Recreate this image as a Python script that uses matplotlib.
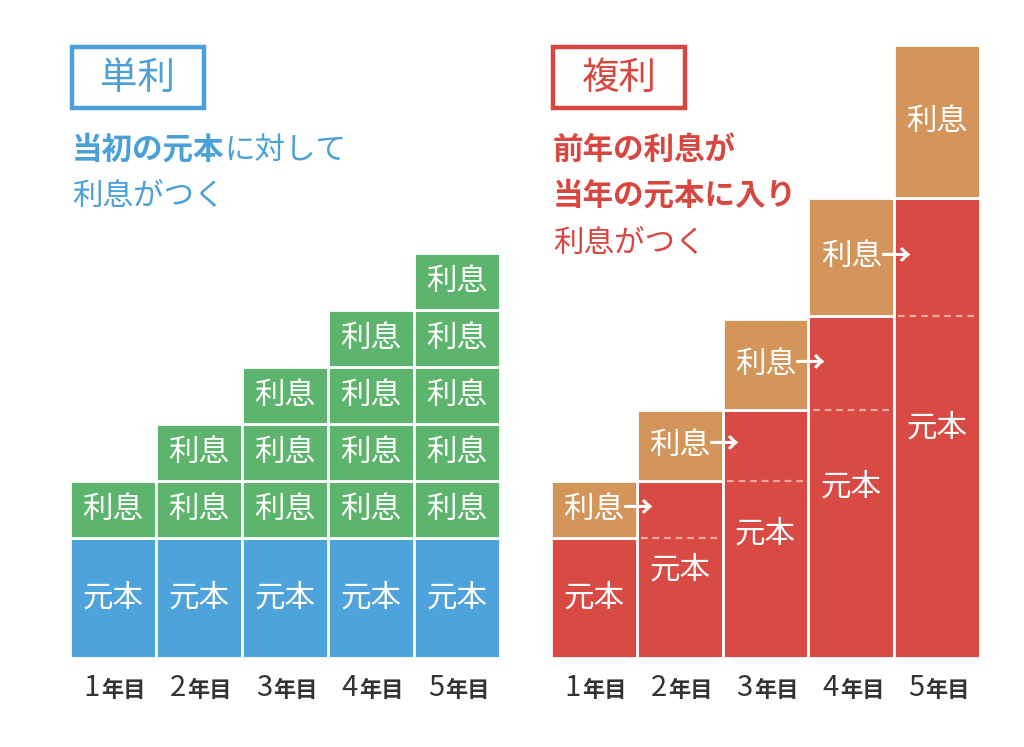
import matplotlib

matplotlib.use("Agg")
import matplotlib.pyplot as plt
from matplotlib.patches import Rectangle

plt.rcParams["font.family"] = ["Noto Sans CJK JP", "DejaVu Sans"]

# data (heights in "one year of simple interest" units)
YEARS = ["1", "2", "3", "4", "5"]
YEAR_SUFFIX = "年目"
SIMPLE_PRINCIPAL = [2.1, 2.1, 2.1, 2.1, 2.1]
SIMPLE_INTEREST = [1.0, 1.0, 1.0, 1.0, 1.0]
SIMPLE_BLOCKS = [1, 2, 3, 4, 5]
COMPOUND_PRINCIPAL = [2.1, 3.1, 4.35, 6.0, 8.07]
COMPOUND_INTEREST = [1.0, 1.25, 1.6, 2.07, 2.68]

BLUE = "#4FA3DC"
GREEN = "#5DB46C"
RED = "#D84A43"
TAN = "#D3955A"
DASH = "#F2A9A2"
TITLE_BLUE = "#4AA0D8"
TITLE_RED = "#D8473F"
YEAR_COLOR = "#333333"

W, H = 1024, 747
YMAX = 10.75
FS = 22


def fx(x):
    return x / W


def fy(y):
    return 1 - y / H


fig = plt.figure(figsize=(W / 100, H / 100), dpi=100, facecolor="white")


def make_axes(left, right):
    ax = fig.add_axes([fx(left), fy(658), fx(right - left), (658 - 45) / H])
    ax.set_xlim(-0.5, 4.5)
    ax.set_ylim(0, YMAX)
    ax.axis("off")
    return ax


def year_labels(ax):
    for i, yr in enumerate(YEARS):
        t = ax.text(i - 0.15, -0.049, yr, transform=ax.get_xaxis_transform(),
                    ha="right", va="center", fontsize=21, color=YEAR_COLOR)
        ax.annotate(YEAR_SUFFIX, xy=(1, 0.5), xycoords=t, xytext=(1, -1.5),
                    textcoords="offset points", ha="left", va="center",
                    fontsize=16, color=YEAR_COLOR, fontweight="bold")


def title_block(ax, left, color, title, lines):
    fig.patches.append(Rectangle((fx(left), fy(108)), fx(132), 61 / H,
                                 transform=fig.transFigure, fill=False,
                                 edgecolor=color, linewidth=3.2))
    fig.text(fx(left + 66), fy(78), title, ha="center", va="center",
             fontsize=27, color=color)
    for y, (bold, normal) in zip([150, 196, 243], lines):
        if bold:
            t = fig.text(fx(left), fy(y), bold, ha="left", va="center",
                         fontsize=FS, color=color, fontweight="bold")
            if normal:
                ax.annotate(normal, xy=(1, 0), xycoords=t, ha="left",
                            va="bottom", fontsize=FS, color=color,
                            annotation_clip=False)
        else:
            fig.text(fx(left), fy(y), normal, ha="left", va="center",
                     fontsize=FS, color=color)


# simple interest panel
axL = make_axes(70, 500)
x = list(range(len(YEARS)))
axL.bar(x, SIMPLE_PRINCIPAL, width=1, color=BLUE, edgecolor="white", linewidth=2)
for i in x:
    axL.text(i, SIMPLE_PRINCIPAL[i] / 2, "元本", ha="center", va="center",
             fontsize=FS, color="white")
    for k in range(SIMPLE_BLOCKS[i]):
        b = SIMPLE_PRINCIPAL[i] + k * SIMPLE_INTEREST[i]
        axL.bar(i, SIMPLE_INTEREST[i], bottom=b, width=1, color=GREEN,
                edgecolor="white", linewidth=2)
        axL.text(i, b + SIMPLE_INTEREST[i] / 2, "利息", ha="center",
                 va="center", fontsize=FS, color="white")
year_labels(axL)

# compound interest panel
axR = make_axes(551, 980)
axR.bar(x, COMPOUND_PRINCIPAL, width=1, color=RED, edgecolor="white", linewidth=2)
axR.bar(x, COMPOUND_INTEREST, bottom=COMPOUND_PRINCIPAL, width=1, color=TAN,
        edgecolor="white", linewidth=2)
for i in x:
    axR.text(i, COMPOUND_PRINCIPAL[i] / 2, "元本", ha="center", va="center",
             fontsize=FS, color="white")
    t = axR.text(i, COMPOUND_PRINCIPAL[i] + COMPOUND_INTEREST[i] / 2, "利息",
                 ha="center", va="center", fontsize=FS, color="white")
    if i < len(x) - 1:
        axR.annotate("→", xy=(1, 0.5), xycoords=t, xytext=(-1, 0),
                     textcoords="offset points", ha="left", va="center",
                     fontsize=FS, color="white", fontweight="bold")
    if i > 0:
        axR.hlines(COMPOUND_PRINCIPAL[i - 1], i - 0.45, i + 0.45, colors=DASH,
                   linestyles=(0, (3, 2.2)), linewidth=1.6)
year_labels(axR)

title_block(axL, 72, TITLE_BLUE, "単利", [("当初の元本", "に対して"), ("", "利息がつく")])
title_block(axR, 553, TITLE_RED, "複利",
            [("前年の利息が", ""), ("当年の元本に入り", ""), ("", "利息がつく")])

fig.savefig("out.png", dpi=100, facecolor="white")
